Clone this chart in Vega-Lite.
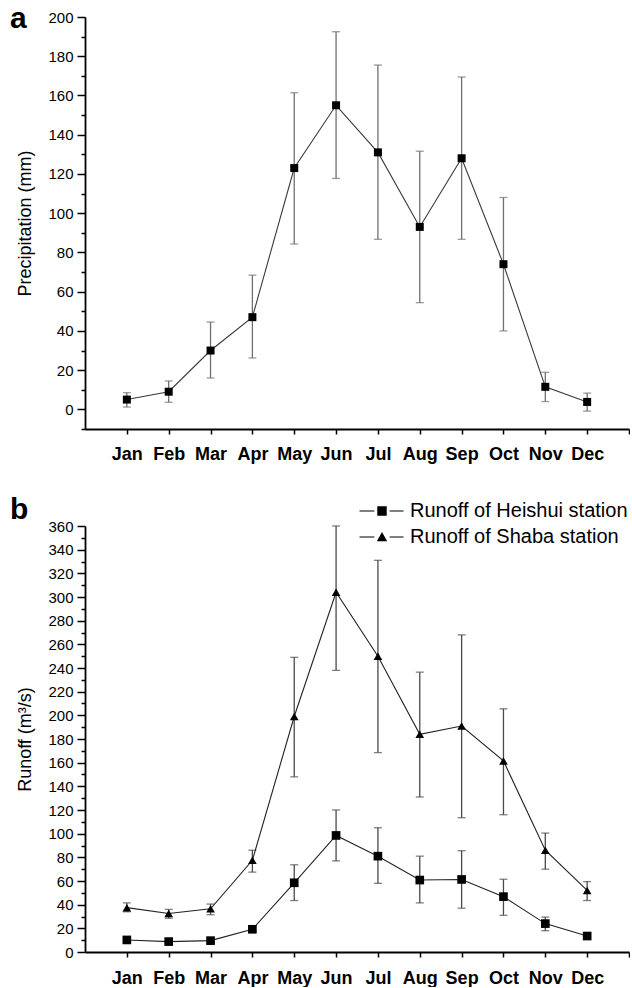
{
  "$schema": "https://vega.github.io/schema/vega-lite/v6.json",
  "autosize": {"type": "pad"},
  "padding": {"left": 9, "top": 4, "right": 0, "bottom": 0},
  "spacing": 32,
  "resolve": {"scale": {"shape": "independent"}, "legend": {"shape": "independent"}},
  "datasets": {
    "precip": [
      {"month": 1, "value": 5, "lo": 1.2, "hi": 8.5},
      {"month": 2, "value": 9, "lo": 3.6, "hi": 14.5},
      {"month": 3, "value": 30, "lo": 16, "hi": 44.5},
      {"month": 4, "value": 47, "lo": 26.2, "hi": 68.4},
      {"month": 5, "value": 123, "lo": 84.3, "hi": 161.4},
      {"month": 6, "value": 155, "lo": 117.7, "hi": 192.5},
      {"month": 7, "value": 131, "lo": 86.7, "hi": 175.5},
      {"month": 8, "value": 93, "lo": 54.4, "hi": 131.6},
      {"month": 9, "value": 128, "lo": 86.7, "hi": 169.4},
      {"month": 10, "value": 74, "lo": 40, "hi": 108},
      {"month": 11, "value": 11.5, "lo": 4, "hi": 18.9},
      {"month": 12, "value": 3.8, "lo": -0.9, "hi": 8.3}
    ],
    "runoff": [
      {"month": 1, "station": "Runoff of Heishui station", "value": 10.2, "lo": 9, "hi": 11.5},
      {"month": 2, "station": "Runoff of Heishui station", "value": 8.8, "lo": 7.8, "hi": 9.8},
      {"month": 3, "station": "Runoff of Heishui station", "value": 9.6, "lo": 8.6, "hi": 10.6},
      {"month": 4, "station": "Runoff of Heishui station", "value": 19.2, "lo": 18, "hi": 20.5},
      {"month": 5, "station": "Runoff of Heishui station", "value": 58.5, "lo": 43.5, "hi": 73.7},
      {"month": 6, "station": "Runoff of Heishui station", "value": 98.5, "lo": 77, "hi": 120},
      {"month": 7, "station": "Runoff of Heishui station", "value": 81, "lo": 58, "hi": 105},
      {"month": 8, "station": "Runoff of Heishui station", "value": 60.8, "lo": 41.5, "hi": 81},
      {"month": 9, "station": "Runoff of Heishui station", "value": 61.3, "lo": 37, "hi": 85.6},
      {"month": 10, "station": "Runoff of Heishui station", "value": 46.8, "lo": 31, "hi": 61.5},
      {"month": 11, "station": "Runoff of Heishui station", "value": 24, "lo": 18, "hi": 29.5},
      {"month": 12, "station": "Runoff of Heishui station", "value": 13.5, "lo": 12.5, "hi": 14.5},
      {"month": 1, "station": "Runoff of Shaba station", "value": 37.5, "lo": 34, "hi": 41.5},
      {"month": 2, "station": "Runoff of Shaba station", "value": 32.5, "lo": 28.5, "hi": 36},
      {"month": 3, "station": "Runoff of Shaba station", "value": 36.5, "lo": 31.5, "hi": 40.5},
      {"month": 4, "station": "Runoff of Shaba station", "value": 77.5, "lo": 67.5, "hi": 86},
      {"month": 5, "station": "Runoff of Shaba station", "value": 199, "lo": 148, "hi": 249},
      {"month": 6, "station": "Runoff of Shaba station", "value": 304, "lo": 238, "hi": 360},
      {"month": 7, "station": "Runoff of Shaba station", "value": 250, "lo": 168.5, "hi": 331},
      {"month": 8, "station": "Runoff of Shaba station", "value": 184, "lo": 131, "hi": 236.5},
      {"month": 9, "station": "Runoff of Shaba station", "value": 191, "lo": 113.5, "hi": 268},
      {"month": 10, "station": "Runoff of Shaba station", "value": 161.5, "lo": 116, "hi": 205.5},
      {"month": 11, "station": "Runoff of Shaba station", "value": 86, "lo": 70, "hi": 100.5},
      {"month": 12, "station": "Runoff of Shaba station", "value": 52, "lo": 43.5, "hi": 59.5}
    ]
  },
  "config": {
    "font": "Liberation Sans",
    "view": {"stroke": null},
    "axis": {
      "grid": false,
      "domainColor": "black",
      "tickColor": "black",
      "labelColor": "black",
      "titleColor": "black",
      "labelFont": "Liberation Sans",
      "titleFont": "Liberation Sans",
      "domainWidth": 1.8,
      "tickWidth": 1.5
    },
    "title": {"font": "Liberation Sans", "color": "black"}
  },
  "vconcat": [
    {
      "width": 544,
      "height": 412,
      "title": {"text": "a", "anchor": "start", "frame": "bounds", "fontSize": 30, "fontWeight": "bold", "offset": 0, "dx": -7, "dy": 24},
      "data": {"name": "precip"},
      "layer": [
        {
          "mark": {"type": "errorbar", "ticks": {"size": 8}, "color": "#707070", "thickness": 1.3},
          "encoding": {
            "x": {"field": "month", "type": "quantitative", "scale": {"domain": [0, 13], "nice": false},
              "axis": {"title": null, "values": [1,2,3,4,5,6,7,8,9,10,11,12,13], "tickSize": 5,
                "labelExpr": "['Jan','Feb','Mar','Apr','May','Jun','Jul','Aug','Sep','Oct','Nov','Dec',''][datum.value-1]",
                "labelFontSize": 18, "labelFontWeight": "bold", "labelPadding": 11, "labelOverlap": false}},
            "y": {"field": "lo", "type": "quantitative", "scale": {"domain": [-10, 200], "nice": false, "zero": false},
              "axis": {"title": "Precipitation (mm)", "orient": "left", "values": [0,20,40,60,80,100,120,140,160,180,200], "tickSize": 8,
                "labelFontSize": 15, "labelPadding": 4, "titleFontSize": 18, "titleFontWeight": "normal", "titlePadding": 13}},
            "y2": {"field": "hi"}
          }
        },
        {
          "mark": {"type": "line", "color": "#3a3a3a", "strokeWidth": 1.1},
          "encoding": {
            "x": {"field": "month", "type": "quantitative"},
            "y": {"field": "value", "type": "quantitative",
              "axis": {"title": null, "orient": "left", "labels": false, "domain": false, "tickSize": 4,
                "values": [-10,10,30,50,70,90,110,130,150,170,190]}}
          }
        },
        {
          "mark": {"type": "point", "shape": "square", "filled": true, "size": 64, "color": "black", "opacity": 1},
          "encoding": {
            "x": {"field": "month", "type": "quantitative"},
            "y": {"field": "value", "type": "quantitative", "axis": null}
          }
        }
      ],
      "resolve": {"axis": {"y": "independent"}}
    },
    {
      "width": 544,
      "height": 426,
      "title": {"text": "b", "anchor": "start", "frame": "bounds", "fontSize": 30, "fontWeight": "bold", "offset": 0, "dx": -7, "dy": 24},
      "data": {"name": "runoff"},
      "layer": [
        {
          "mark": {"type": "errorbar", "ticks": {"size": 8}, "color": "#4a4a4a", "thickness": 1.3},
          "encoding": {
            "x": {"field": "month", "type": "quantitative", "scale": {"domain": [0, 13], "nice": false},
              "axis": {"title": null, "values": [1,2,3,4,5,6,7,8,9,10,11,12,13], "tickSize": 5,
                "labelExpr": "['Jan','Feb','Mar','Apr','May','Jun','Jul','Aug','Sep','Oct','Nov','Dec',''][datum.value-1]",
                "labelFontSize": 18, "labelFontWeight": "bold", "labelPadding": 12, "labelOverlap": false}},
            "y": {"field": "lo", "type": "quantitative", "scale": {"domain": [0, 360], "nice": false},
              "axis": {"title": "Runoff (m³/s)", "orient": "left", "values": [0,20,40,60,80,100,120,140,160,180,200,220,240,260,280,300,320,340,360], "tickSize": 8,
                "labelFontSize": 15, "labelPadding": 4, "titleFontSize": 18, "titleFontWeight": "normal", "titlePadding": 13}},
            "y2": {"field": "hi"},
            "detail": {"field": "station"}
          }
        },
        {
          "mark": {"type": "line", "color": "#222222", "strokeWidth": 1.1},
          "encoding": {
            "x": {"field": "month", "type": "quantitative"},
            "y": {"field": "value", "type": "quantitative",
              "axis": {"title": null, "orient": "left", "labels": false, "domain": false, "tickSize": 4,
                "values": [10,30,50,70,90,110,130,150,170,190,210,230,250,270,290,310,330,350]}},
            "detail": {"field": "station"}
          }
        },
        {
          "mark": {"type": "point", "filled": true, "color": "black", "opacity": 1, "size": 75},
          "encoding": {
            "x": {"field": "month", "type": "quantitative"},
            "y": {"field": "value", "type": "quantitative", "axis": null},
            "shape": {"field": "station", "type": "nominal",
              "scale": {"domain": ["Runoff of Heishui station", "Runoff of Shaba station"], "range": ["square", "triangle-up"]},
              "legend": null}
          }
        },
        {
          "transform": [{"filter": "false"}],
          "mark": {"type": "point", "filled": true, "color": "black", "opacity": 1, "size": 81, "strokeWidth": 0},
          "encoding": {
            "x": {"field": "month", "type": "quantitative"},
            "y": {"field": "value", "type": "quantitative", "axis": null},
            "shape": {"field": "station", "type": "nominal",
              "scale": {"domain": ["Runoff of Heishui station", "Runoff of Shaba station"],
                "range": ["M-5,-0.13H-1.7V0.13H-5Z M1.7,-0.13H4.8V0.13H1.7Z M-1.05,-1.05H1.05V1.05H-1.05Z", "M-5,-0.13H-1.7V0.13H-5Z M1.7,-0.13H4.8V0.13H1.7Z M-1.15,0.95L0,-1.1L1.15,0.95Z"]},
              "legend": {"title": null, "orient": "none", "legendX": 287, "legendY": -25, "padding": 0,
                "labelFontSize": 20, "labelColor": "black", "labelFont": "Liberation Sans", "labelOffset": 18, "labelLimit": 400,
                "symbolSize": 81, "symbolStrokeWidth": 0, "symbolFillColor": "black", "symbolOpacity": 1, "rowPadding": 6}}
          }
        }
      ],
      "resolve": {"axis": {"y": "independent"}, "scale": {"shape": "independent"}}
    }
  ]
}
